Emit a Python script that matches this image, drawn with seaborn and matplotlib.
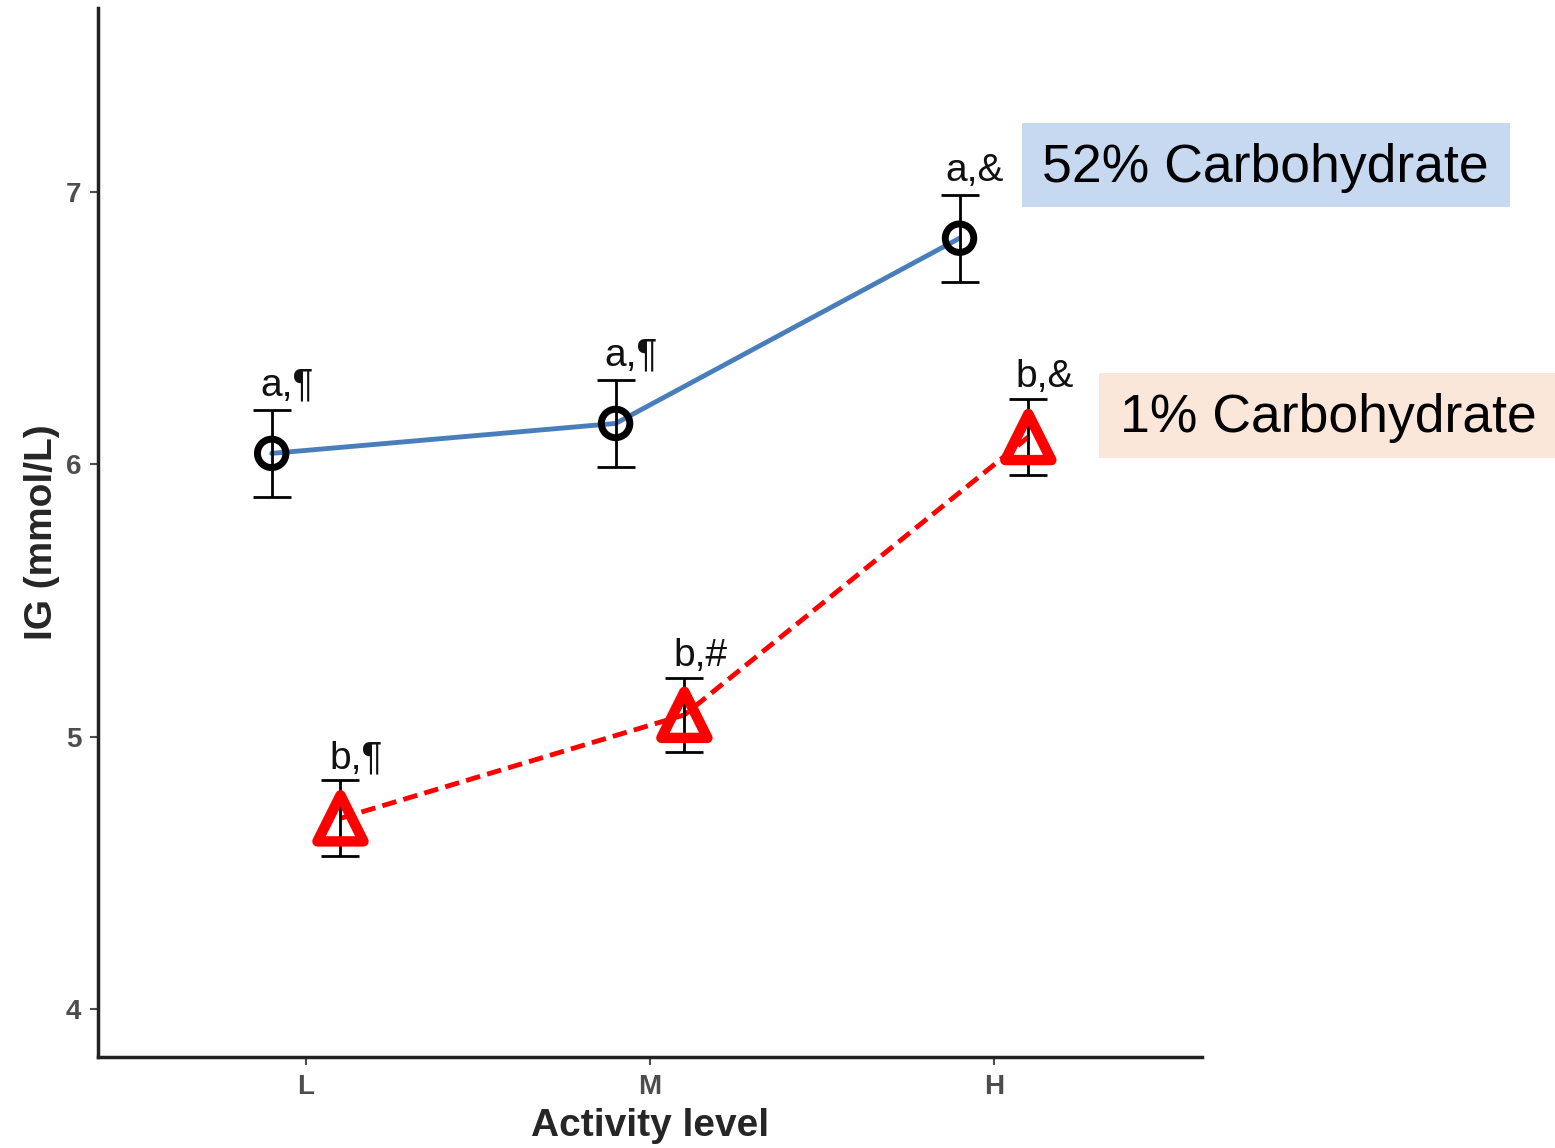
import matplotlib
matplotlib.use("Agg")
import matplotlib.pyplot as plt
import seaborn as sns
import pandas as pd
from matplotlib.patches import Rectangle

# data
levels = ["L", "M", "H"]
carb52_mean = [6.04, 6.15, 6.83]
carb52_err = [0.16, 0.16, 0.16]
carb52_labels = ["a,\u00b6", "a,\u00b6", "a,&"]
carb1_mean = [4.70, 5.08, 6.10]
carb1_err = [0.14, 0.135, 0.14]
carb1_labels = ["b,\u00b6", "b,#", "b,&"]

sns.set_style("white")
plt.rcParams['font.family'] = ['Liberation Sans', 'DejaVu Sans']

fig = plt.figure(figsize=(15.55, 11.48), dpi=100)
ax = fig.add_axes([98 / 1555, 1 - 1057 / 1148, (1202 - 98) / 1555, (1057 - 8) / 1148])

dodge = 0.1
pos = list(range(len(levels)))
df52 = pd.DataFrame({"x": [p - dodge for p in pos], "y": carb52_mean})
df1 = pd.DataFrame({"x": [p + dodge for p in pos], "y": carb1_mean})

# lines
sns.lineplot(data=df52, x="x", y="y", ax=ax, color="#4a7ebb", linewidth=3.5, zorder=2)
sns.lineplot(data=df1, x="x", y="y", ax=ax, color="#ff0000", linewidth=3.5,
             linestyle=(0, (3, 1.5)), zorder=2)

# error bars
ax.errorbar(df52["x"], df52["y"], yerr=carb52_err, fmt="none", ecolor="black",
            elinewidth=2, capsize=14, capthick=2, zorder=3)
ax.errorbar(df1["x"], df1["y"], yerr=carb1_err, fmt="none", ecolor="black",
            elinewidth=2, capsize=14, capthick=2, zorder=3)

# markers
sns.scatterplot(data=df52, x="x", y="y", ax=ax, marker="o", s=420,
                facecolor="none", edgecolor="black", linewidth=5, zorder=4)
sns.scatterplot(data=df1, x="x", y="y", ax=ax, marker="^", s=1100,
                facecolor="none", edgecolor="#ff0000", linewidth=7.5, zorder=4)

# letter annotations above the error bars
for xv, yv, e, lab in zip(df52["x"], carb52_mean, carb52_err, carb52_labels):
    ax.annotate(lab, (xv, yv + e), xytext=(15, 14), textcoords="offset pixels",
                ha="center", va="baseline", fontsize=28, color="#111111")
for xv, yv, e, lab in zip(df1["x"], carb1_mean, carb1_err, carb1_labels):
    ax.annotate(lab, (xv, yv + e), xytext=(16, 12), textcoords="offset pixels",
                ha="center", va="baseline", fontsize=28, color="#111111")

ax.set_xlim(-0.605, 2.605)
ax.set_ylim(4 - 48 / 272.5, 7 + 184 / 272.5)
ax.set_xticks(pos)
ax.set_xticklabels(levels)
ax.set_yticks([4, 5, 6, 7])
ax.tick_params(axis="both", labelsize=20, colors="#4d4d4d", length=6, width=1.5,
               left=True, bottom=True, pad=6)
for t in ax.get_xticklabels() + ax.get_yticklabels():
    t.set_fontweight("bold")
ax.set_xlabel("Activity level", fontsize=28, fontweight="bold", labelpad=6)
ax.set_ylabel("IG (mmol/L)", fontsize=28, fontweight="bold", labelpad=4)
sns.despine(ax=ax)
for sp in ["left", "bottom"]:
    ax.spines[sp].set_linewidth(2.5)
    ax.spines[sp].set_color("#222222")

# legend boxes
fig.patches.append(Rectangle((1022 / 1555, 1 - 207 / 1148), 488 / 1555, 84 / 1148,
                             transform=fig.transFigure, facecolor="#c6d9f1",
                             edgecolor="none", zorder=0))
fig.text(1042 / 1555, 1 - 168 / 1148, "52% Carbohydrate", fontsize=38.5,
         ha="left", va="center", color="black")
fig.patches.append(Rectangle((1099 / 1555, 1 - 458 / 1148), 456 / 1555, 85 / 1148,
                             transform=fig.transFigure, facecolor="#fbe7d9",
                             edgecolor="none", zorder=0))
fig.text(1120 / 1555, 1 - 418 / 1148, "1% Carbohydrate", fontsize=38.5,
         ha="left", va="center", color="black")

fig.savefig("out.png", dpi=100)
